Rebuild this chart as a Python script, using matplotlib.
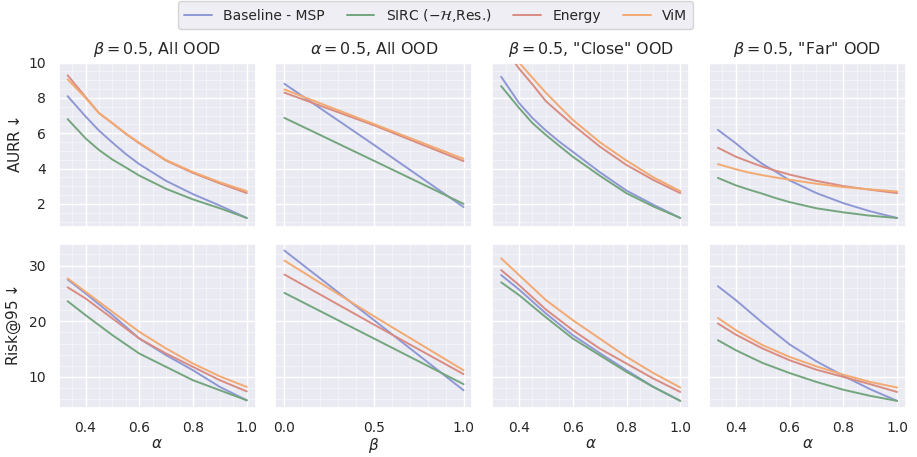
import matplotlib
matplotlib.use("Agg")
import matplotlib.pyplot as plt
import seaborn as sns
from matplotlib.ticker import AutoMinorLocator

sns.set_theme(style="darkgrid")
plt.rcParams['font.family'] = ['DejaVu Sans']

methods = ["Baseline - MSP", r"SIRC ($-\mathcal{H}$,Res.)", "Energy", "ViM"]
colors = ["#8e98d5", "#74a67e", "#d98c82", "#f2aa72"]

alpha_top = [1/3, 0.4, 0.45, 0.5, 0.55, 0.6, 0.7, 0.8, 0.9, 1.0]
alpha_bot = [1/3, 0.4, 0.5, 0.6, 0.7, 0.8, 0.9, 1.0]
beta = [0.0, 0.5, 1.0]

# AURR, beta=0.5, all OOD
aurr_all = [
    [8.1, 6.95, 6.15, 5.47, 4.82, 4.25, 3.3, 2.55, 1.9, 1.2],
    [6.8, 5.71, 5.05, 4.51, 4.06, 3.6, 2.85, 2.25, 1.75, 1.2],
    [9.28, 8.05, 7.14, 6.57, 5.96, 5.43, 4.45, 3.75, 3.16, 2.61],
    [9.05, 8.0, 7.14, 6.57, 5.98, 5.46, 4.48, 3.8, 3.22, 2.72],
]
# AURR, alpha=0.5, vs beta
aurr_beta = [
    [8.8, 5.34, 1.82],
    [6.87, 4.44, 2.0],
    [8.3, 6.45, 4.42],
    [8.48, 6.52, 4.55],
]
# AURR, beta=0.5, "close" OOD
aurr_close = [
    [9.2, 7.71, 6.86, 6.15, 5.52, 4.95, 3.8, 2.75, 1.95, 1.2],
    [8.67, 7.43, 6.57, 5.9, 5.28, 4.67, 3.6, 2.6, 1.85, 1.2],
    [11.1, 9.66, 8.76, 7.81, 7.14, 6.48, 5.25, 4.2, 3.35, 2.61],
    [11.4, 10.0, 9.14, 8.29, 7.52, 6.76, 5.5, 4.45, 3.5, 2.72],
]
# AURR, beta=0.5, "far" OOD
aurr_far = [
    [6.19, 5.43, 4.8, 4.25, 3.81, 3.33, 2.61, 2.04, 1.58, 1.2],
    [3.47, 3.05, 2.8, 2.57, 2.32, 2.1, 1.75, 1.52, 1.33, 1.2],
    [5.18, 4.67, 4.38, 4.1, 3.87, 3.66, 3.3, 3.01, 2.8, 2.61],
    [4.25, 3.96, 3.77, 3.62, 3.49, 3.37, 3.14, 2.95, 2.82, 2.7],
]

# Risk@95
risk_all = [
    [27.5, 25.0, 21.1, 16.9, 13.9, 11.2, 8.2, 5.8],
    [23.6, 21.1, 17.5, 14.2, 11.8, 9.4, 7.6, 5.8],
    [26.1, 24.1, 20.5, 16.9, 14.2, 11.8, 9.4, 7.4],
    [27.7, 25.3, 21.7, 18.1, 15.1, 12.4, 10.1, 8.2],
]
risk_beta = [
    [32.7, 20.2, 7.6],
    [25.1, 16.9, 8.7],
    [28.4, 19.4, 10.5],
    [30.9, 20.9, 11.2],
]
risk_close = [
    [28.3, 25.7, 21.4, 17.5, 14.3, 11.2, 8.2, 5.7],
    [27.0, 24.7, 20.7, 16.9, 13.9, 10.9, 8.2, 5.7],
    [29.2, 26.5, 22.1, 18.4, 15.1, 12.4, 9.7, 7.3],
    [31.3, 28.3, 23.8, 20.2, 16.9, 13.6, 10.7, 8.1],
]
risk_far = [
    [26.3, 23.8, 19.7, 15.85, 12.8, 10.2, 7.8, 5.7],
    [16.6, 14.8, 12.5, 10.7, 9.1, 7.7, 6.6, 5.7],
    [19.6, 17.6, 15.1, 13.0, 11.3, 10.0, 8.7, 7.3],
    [20.6, 18.4, 15.7, 13.6, 11.9, 10.4, 9.1, 8.1],
]

titles = [r"$\beta = 0.5$, All OOD", r"$\alpha = 0.5$, All OOD",
          r'$\beta = 0.5$, "Close" OOD', r'$\beta = 0.5$, "Far" OOD']
xlabels = [r"$\alpha$", r"$\beta$", r"$\alpha$", r"$\alpha$"]
xs = [[alpha_top, beta, alpha_top, alpha_top],
      [alpha_bot, beta, alpha_bot, alpha_bot]]
rows = [[aurr_all, aurr_beta, aurr_close, aurr_far],
        [risk_all, risk_beta, risk_close, risk_far]]

fig, axes = plt.subplots(2, 4, figsize=(9.17, 4.57), dpi=100, sharex='col', sharey='row')
fig.subplots_adjust(left=0.064, right=0.988, top=0.863, bottom=0.107, wspace=0.10, hspace=0.104)

for r in range(2):
    for c in range(4):
        ax = axes[r, c]
        for k in range(4):
            ax.plot(xs[r][c], rows[r][c][k], color=colors[k], lw=1.4, label=methods[k])
        ax.xaxis.set_minor_locator(AutoMinorLocator())
        ax.yaxis.set_minor_locator(AutoMinorLocator())
        ax.grid(which='major', color='white', lw=1.0)
        ax.grid(which='minor', color='white', lw=0.5, alpha=0.6)
        ax.tick_params(labelsize=10, pad=3)
        if r == 0:
            ax.set_title(titles[c], fontsize=11.4)
        else:
            ax.set_xlabel(xlabels[c], fontsize=11, labelpad=1)

axes[0, 0].set_ylim(0.7, 10)
axes[1, 0].set_ylim(4.4, 33.9)
axes[0, 0].set_ylabel(r"AURR$\downarrow$", fontsize=11)
axes[1, 0].set_ylabel(r"Risk@95$\downarrow$", fontsize=11)
axes[1, 1].set_xticks([0.0, 0.5, 1.0])

handles, labels = axes[0, 0].get_legend_handles_labels()
fig.legend(handles, labels, loc='upper center', bbox_to_anchor=(0.475, 1.013),
           ncol=4, fontsize=10, frameon=True, columnspacing=1.6)

fig.savefig("out.png", dpi=100)
